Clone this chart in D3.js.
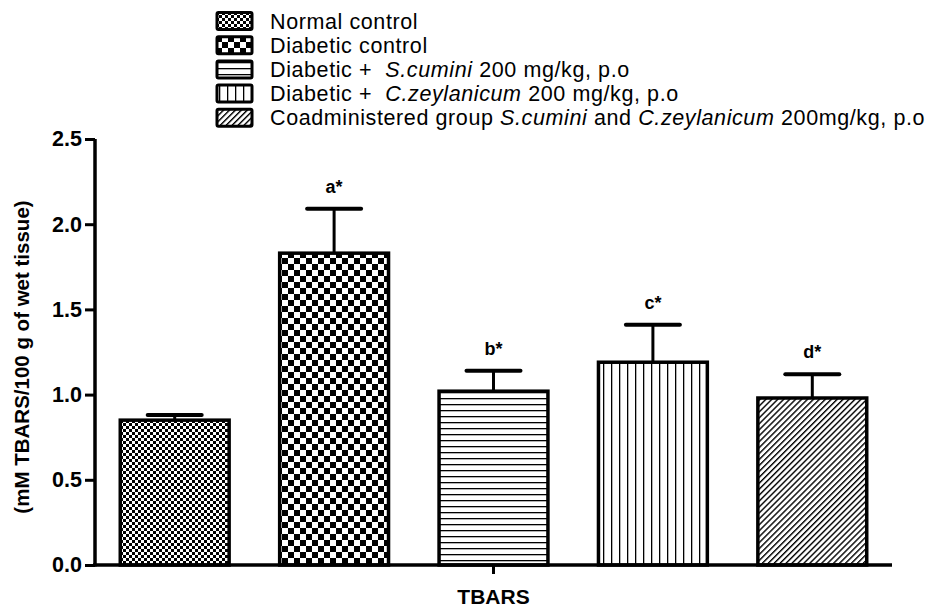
<!DOCTYPE html>
<html>
<head>
<meta charset="utf-8">
<script src="https://cdn.jsdelivr.net/npm/d3@7"></script>
<style>
  body { margin: 0; background: #fff; }
  svg text { font-family: Arial, "Liberation Sans", sans-serif; white-space: pre; }
</style>
</head>
<body>
<svg id="chart" width="931" height="608"></svg>
<script>
// data
const groups = ["Normal control", "Diabetic control", "S.cumini", "C.zeylanicum", "Coadministered"];
const means = [0.85, 1.83, 1.02, 1.19, 0.98];
const sems = [0.03, 0.26, 0.12, 0.22, 0.14];
const sigLabels = ["", "a*", "b*", "c*", "d*"];
const yTicks = [0, 0.5, 1.0, 1.5, 2.0, 2.5];
const patternIds = ["p-fine", "p-check", "p-horiz", "p-vert", "p-diag"];
// legend text, [text, italic]
const legendItems = [
  [["Normal control", false]],
  [["Diabetic control", false]],
  [["Diabetic +  ", false], ["S.cumini", true], [" 200 mg/kg, p.o", false]],
  [["Diabetic +  ", false], ["C.zeylanicum", true], [" 200 mg/kg, p.o", false]],
  [["Coadministered group ", false], ["S.cumini", true], [" and ", false], ["C.zeylanicum", true], [" 200mg/kg, p.o", false]],
];
const xLabel = "TBARS";
const yLabel = "(mM TBARS/100 g of wet tissue)";

const svg = d3.select("#chart");
const defs = svg.append("defs");

// patterns
function checker(id, c) {
  const p = defs.append("pattern").attr("id", id)
    .attr("patternUnits", "userSpaceOnUse")
    .attr("width", c * 2).attr("height", c * 2);
  p.append("rect").attr("width", c * 2).attr("height", c * 2).attr("fill", "#fff");
  p.append("rect").attr("width", c).attr("height", c).attr("fill", "#000");
  p.append("rect").attr("x", c).attr("y", c).attr("width", c).attr("height", c).attr("fill", "#000");
}
checker("p-fine", 3);
checker("p-check", 6);

const ph = defs.append("pattern").attr("id", "p-horiz")
  .attr("patternUnits", "userSpaceOnUse").attr("width", 6).attr("height", 6);
ph.append("rect").attr("width", 6).attr("height", 6).attr("fill", "#fff");
ph.append("rect").attr("y", 2).attr("width", 6).attr("height", 1.3).attr("fill", "#000");

const pv = defs.append("pattern").attr("id", "p-vert")
  .attr("patternUnits", "userSpaceOnUse").attr("width", 8).attr("height", 8);
pv.append("rect").attr("width", 8).attr("height", 8).attr("fill", "#fff");
pv.append("rect").attr("x", 3).attr("width", 1.3).attr("height", 8).attr("fill", "#000");

const pd = defs.append("pattern").attr("id", "p-diag")
  .attr("patternUnits", "userSpaceOnUse").attr("width", 4.2).attr("height", 4.2)
  .attr("patternTransform", "rotate(45)");
pd.append("rect").attr("width", 4.2).attr("height", 4.2).attr("fill", "#fff");
pd.append("rect").attr("width", 1.4).attr("height", 4.2).attr("fill", "#000");

// scales
const x = d3.scaleBand().domain(groups).range([95, 892])
  .paddingInner(0.317).paddingOuter(0.1585);
const y = d3.scaleLinear().domain([0, 2.5]).range([565, 139]);

// bars
const bars = svg.append("g");
groups.forEach((g, i) => {
  const bx = x(g), bw = x.bandwidth();
  const top = y(means[i]);
  const ey = y(means[i] + sems[i]);
  const cx = bx + bw / 2;
  // error bar
  bars.append("line").attr("x1", cx).attr("x2", cx).attr("y1", top).attr("y2", ey)
    .attr("stroke", "#000").attr("stroke-width", 3);
  bars.append("line").attr("x1", cx - 27).attr("x2", cx + 27).attr("y1", ey).attr("y2", ey)
    .attr("stroke", "#000").attr("stroke-width", 4).attr("stroke-linecap", "round");
  bars.append("rect")
    .attr("x", bx).attr("y", top).attr("width", bw).attr("height", y(0) - top)
    .attr("fill", `url(#${patternIds[i]})`)
    .attr("stroke", "#000").attr("stroke-width", 3.5);
  if (sigLabels[i]) {
    bars.append("text").attr("x", cx).attr("y", ey - 16)
      .attr("text-anchor", "middle").attr("font-size", 18).attr("font-weight", "bold")
      .text(sigLabels[i]);
  }
});

// y axis
const yAxis = svg.append("g").attr("transform", "translate(95,0)")
  .call(d3.axisLeft(y).tickValues(yTicks).tickFormat(d3.format(".1f")).tickSize(10).tickPadding(3));
yAxis.select(".domain").attr("stroke-width", 3.5).attr("d", `M0,${y(2.5)}V${y(0) + 1.5}`);
yAxis.selectAll(".tick line").attr("stroke-width", 3);
yAxis.selectAll(".tick text").attr("font-size", 21.5).attr("font-weight", "bold")
  .attr("font-family", "Arial, 'Liberation Sans', sans-serif").attr("fill", "#000");

// x axis
const xAxis = svg.append("g").attr("transform", `translate(0,${y(0)})`);
xAxis.append("line").attr("x1", 93).attr("x2", 892).attr("stroke", "#000").attr("stroke-width", 3.5);
const midX = (x.range()[0] + x.range()[1]) / 2;
xAxis.append("line").attr("x1", midX).attr("x2", midX).attr("y1", 0).attr("y2", 9)
  .attr("stroke", "#000").attr("stroke-width", 3);
xAxis.append("text").attr("x", midX).attr("y", 39).attr("text-anchor", "middle")
  .attr("font-size", 21).attr("font-weight", "bold").text(xLabel);

// y label
svg.append("text")
  .attr("transform", `translate(29,${(y(0) + y(2.5)) / 2 + 5}) rotate(-90)`)
  .attr("text-anchor", "middle").attr("font-size", 20.5).attr("font-weight", "bold")
  .text(yLabel);

// legend
const legend = svg.append("g");
legendItems.forEach((segs, i) => {
  const ly = 21 + i * 24.2;
  legend.append("rect").attr("x", 217).attr("y", ly - 8.5).attr("width", 35).attr("height", 17)
    .attr("fill", `url(#${patternIds[i]})`).attr("stroke", "#000").attr("stroke-width", 3)
    .attr("rx", 1.5);
  const t = legend.append("text").attr("x", 270).attr("y", ly + 7.5)
    .attr("font-size", 21.5).attr("letter-spacing", 0.6);
  segs.forEach(([s, it]) => {
    t.append("tspan").attr("font-style", it ? "italic" : "normal").text(s);
  });
});
</script>
</body>
</html>
